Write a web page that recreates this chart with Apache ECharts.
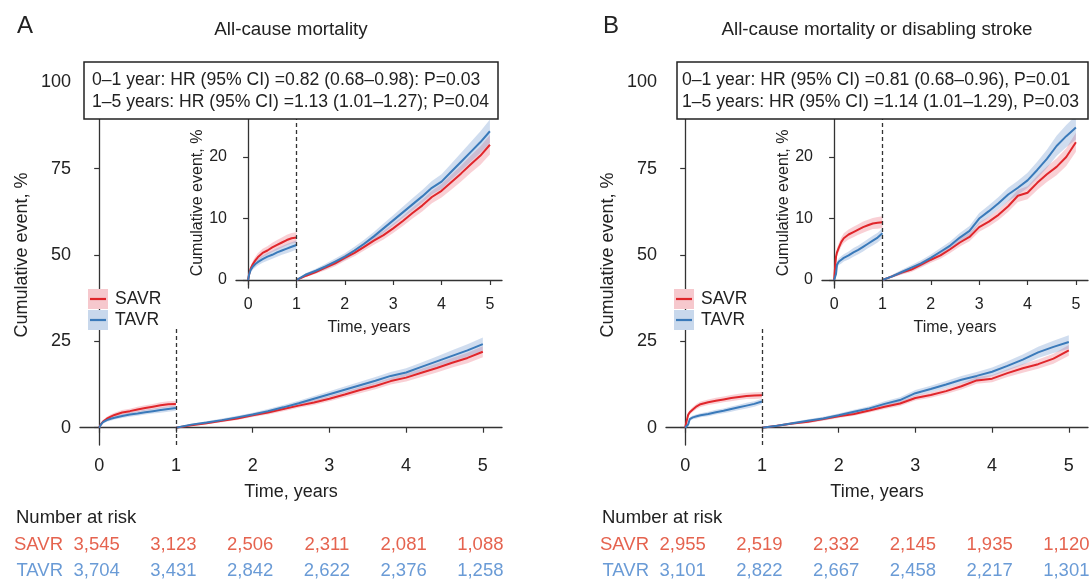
<!DOCTYPE html>
<html style="height: 100%">
<head>
<meta charset="utf-8">
</head>
<body style="height: 100%; margin: 0; background: #fff">
<div id="container" style="width: 1091px; height: 581px"></div>
<script type="text/javascript" src="https://cdn.jsdelivr.net/npm/echarts@6/dist/echarts.min.js"></script>
<script type="text/javascript">
// ---- data (cumulative event, %) ----
var yearTicks = [0, 1, 2, 3, 4, 5];
var mainPctTicks = [0, 25, 50, 75, 100];
var insetPctTicks = [0, 10, 20];

// panel A: all-cause mortality
var tEarlyA = [0, 0.02, 0.05, 0.1, 0.15, 0.2, 0.3, 0.4, 0.5, 0.6, 0.7, 0.8, 0.9, 1.0];
var savrEarlyA = [0, 0.9, 1.8, 2.6, 3.2, 3.7, 4.4, 4.8, 5.3, 5.7, 6.1, 6.5, 6.8, 6.9];
var tavrEarlyA = [0, 0.8, 1.6, 2.2, 2.6, 2.9, 3.4, 3.8, 4.1, 4.5, 4.8, 5.1, 5.4, 5.7];
var savrEarlyCiA = [0, 0.3, 0.45, 0.55, 0.6, 0.65, 0.7, 0.7, 0.75, 0.8, 0.8, 0.85, 0.85, 0.85];
var tavrEarlyCiA = [0, 0.3, 0.4, 0.5, 0.55, 0.55, 0.6, 0.65, 0.65, 0.7, 0.7, 0.75, 0.75, 0.75];

var tLate = [1, 1.2, 1.4, 1.6, 1.8, 2.0, 2.2, 2.4, 2.6, 2.8, 3.0, 3.2, 3.4, 3.6, 3.8, 4.0, 4.2, 4.4, 4.6, 4.8, 5.0];
var savrLateA = [0, 0.7, 1.3, 2.0, 2.7, 3.6, 4.4, 5.4, 6.4, 7.3, 8.4, 9.6, 10.9, 12.1, 13.5, 14.5, 15.9, 17.3, 18.8, 20.2, 22.0];
var tavrLateA = [0, 0.9, 1.5, 2.2, 3.0, 3.8, 4.8, 5.9, 7.1, 8.4, 9.7, 11.0, 12.3, 13.6, 15.0, 16.0, 17.6, 19.2, 20.8, 22.4, 24.2];
var savrLateCiA = [0, 0.2, 0.3, 0.4, 0.45, 0.5, 0.55, 0.6, 0.65, 0.7, 0.75, 0.8, 0.9, 0.95, 1.0, 1.1, 1.2, 1.3, 1.4, 1.5, 1.6];
var tavrLateCiA = [0, 0.25, 0.35, 0.45, 0.5, 0.55, 0.6, 0.65, 0.7, 0.8, 0.85, 0.9, 1.0, 1.05, 1.1, 1.2, 1.3, 1.45, 1.6, 1.75, 1.9];

// panel B: all-cause mortality or disabling stroke
var tEarlyB = [0, 0.02, 0.04, 0.06, 0.1, 0.15, 0.2, 0.3, 0.4, 0.5, 0.6, 0.7, 0.8, 0.9, 1.0];
var savrEarlyB = [0, 2.0, 3.8, 4.5, 5.3, 6.2, 6.8, 7.4, 7.8, 8.2, 8.6, 8.9, 9.2, 9.3, 9.4];
var tavrEarlyB = [0, 0.5, 1.0, 2.5, 3.0, 3.3, 3.6, 4.0, 4.5, 4.9, 5.4, 5.9, 6.4, 6.9, 7.6];
var savrEarlyCiB = [0, 0.4, 0.6, 0.65, 0.7, 0.75, 0.8, 0.8, 0.85, 0.85, 0.9, 0.9, 0.9, 0.95, 0.95];
var tavrEarlyCiB = [0, 0.3, 0.4, 0.5, 0.55, 0.6, 0.6, 0.65, 0.7, 0.7, 0.75, 0.75, 0.8, 0.8, 0.8];

var savrLateB = [0, 0.6, 1.2, 1.7, 2.5, 3.3, 4.0, 5.0, 6.1, 7.0, 8.6, 9.5, 10.6, 12.0, 13.7, 14.2, 15.8, 17.2, 18.4, 20.0, 22.4];
var tavrLateB = [0, 0.6, 1.3, 2.0, 2.7, 3.6, 4.6, 5.6, 6.9, 8.0, 10.0, 11.2, 12.5, 13.9, 15.0, 16.2, 17.9, 19.7, 21.8, 23.4, 24.8];
var savrLateCiB = [0, 0.2, 0.3, 0.4, 0.45, 0.5, 0.55, 0.6, 0.65, 0.7, 0.75, 0.8, 0.85, 0.9, 1.0, 1.05, 1.15, 1.25, 1.35, 1.45, 1.55];
var tavrLateCiB = [0, 0.25, 0.35, 0.45, 0.5, 0.55, 0.6, 0.65, 0.75, 0.8, 0.9, 0.95, 1.0, 1.1, 1.15, 1.25, 1.35, 1.5, 1.65, 1.8, 1.95];

// number at risk
var riskTimes = [0, 1, 2, 3, 4, 5];
var riskSavrA = [3545, 3123, 2506, 2311, 2081, 1088];
var riskTavrA = [3704, 3431, 2842, 2622, 2376, 1258];
var riskSavrB = [2955, 2519, 2332, 2145, 1935, 1120];
var riskTavrB = [3101, 2822, 2667, 2458, 2217, 1301];

var hrTextA = ['0\u20131 year: HR (95% CI) =0.82 (0.68\u20130.98): P=0.03',
               '1\u20135 years: HR (95% CI) =1.13 (1.01\u20131.27); P=0.04'];
var hrTextB = ['0\u20131 year: HR (95% CI) =0.81 (0.68\u20130.96), P=0.01',
               '1\u20135 years: HR (95% CI) =1.14 (1.01\u20131.29), P=0.03'];

var RED = '#e0262b', BLUE = '#3a7aba';
var RED_BAND = 'rgba(236,110,125,0.32)', BLUE_BAND = 'rgba(110,150,205,0.32)';
var INK = '#222';
var FONT = "'Liberation Sans', Arial, sans-serif";

var dom = document.getElementById('container');
var myChart = echarts.init(dom);

function band(ax, ts, vals, hw, color) {
  return {
    type: 'custom', xAxisIndex: ax, yAxisIndex: ax, silent: true, z: 1,
    data: [[ts[0], vals[0]]],
    renderItem: function (params, api) {
      var pts = [];
      for (var i = 0; i < ts.length; i++) pts.push(api.coord([ts[i], vals[i] + hw[i]]));
      for (var j = ts.length - 1; j >= 0; j--) pts.push(api.coord([ts[j], Math.max(0, vals[j] - hw[j])]));
      return { type: 'polygon', shape: { points: pts }, style: { fill: color } };
    }
  };
}

function curve(ax, ts, vals, color) {
  return {
    type: 'line', xAxisIndex: ax, yAxisIndex: ax, z: 3,
    showSymbol: false, silent: true,
    data: ts.map(function (t, i) { return [t, vals[i]]; }),
    lineStyle: { color: color, width: 2 }
  };
}

function dashed(ax, y0, y1) {
  return {
    type: 'line', xAxisIndex: ax, yAxisIndex: ax, data: [], silent: true,
    markLine: {
      silent: true, symbol: ['none', 'none'], label: { show: false },
      lineStyle: { type: [4, 3], color: '#333', width: 1.3 },
      data: [[{ coord: [1, y0] }, { coord: [1, y1] }]]
    }
  };
}

function panel(axMain, axInset, d) {
  var out = [];
  [axMain, axInset].forEach(function (ax) {
    out.push(band(ax, d.tE, d.sE, d.sEci, RED_BAND));
    out.push(band(ax, d.tE, d.tvE, d.tvEci, BLUE_BAND));
    out.push(band(ax, tLate, d.sL, d.sLci, RED_BAND));
    out.push(band(ax, tLate, d.tvL, d.tvLci, BLUE_BAND));
    out.push(curve(ax, d.tE, d.sE, RED));
    out.push(curve(ax, d.tE, d.tvE, BLUE));
    out.push(curve(ax, tLate, d.sL, RED));
    out.push(curve(ax, tLate, d.tvL, BLUE));
  });
  out.push(dashed(axMain, -5, 28.7));
  out.push(dashed(axInset, -1.3, 26.35));
  return out;
}

var axisLine = { show: true, lineStyle: { color: '#333', width: 1.3 } };
function xAx(grid, inset) {
  var fs = inset ? 16 : 18;
  return {
    type: 'value', gridIndex: grid, min: -0.25, max: 5.25,
    name: 'Time, years', nameLocation: 'middle', nameGap: inset ? 32 : 38,
    nameTextStyle: { fontSize: fs, color: INK, fontFamily: FONT },
    axisLine: axisLine, splitLine: { show: false },
    axisTick: { show: true, length: 5, customValues: yearTicks, lineStyle: { color: '#333', width: 1.2 } },
    axisLabel: { customValues: yearTicks, fontSize: fs, color: INK, margin: inset ? 9 : 12, fontFamily: FONT }
  };
}
function yAx(grid, inset) {
  var fs = inset ? 16 : 18;
  var ticks = inset ? insetPctTicks : mainPctTicks;
  return {
    type: 'value', gridIndex: grid,
    min: inset ? -1.3 : -5, max: inset ? 26.35 : 105,
    name: 'Cumulative event, %', nameLocation: 'middle', nameGap: inset ? 30 : 49,
    nameTextStyle: { fontSize: fs, color: INK, fontFamily: FONT },
    axisLine: axisLine, splitLine: { show: false },
    axisTick: { show: true, length: 5, customValues: ticks, lineStyle: { color: '#333', width: 1.2 } },
    axisLabel: { customValues: ticks, fontSize: fs, color: INK, margin: 9, fontFamily: FONT }
  };
}

var SHIFT = 586;
var grids = [
  { left: 80, top: 65, width: 422, height: 380 },
  { left: 236, top: 118, width: 266, height: 170 },
  { left: 80 + SHIFT, top: 65, width: 422, height: 380 },
  { left: 236 + SHIFT, top: 118, width: 266, height: 170 }
];

var series = [].concat(
  panel(0, 1, { tE: tEarlyA, sE: savrEarlyA, tvE: tavrEarlyA, sEci: savrEarlyCiA, tvEci: tavrEarlyCiA,
                sL: savrLateA, tvL: tavrLateA, sLci: savrLateCiA, tvLci: tavrLateCiA }),
  panel(2, 3, { tE: tEarlyB, sE: savrEarlyB, tvE: tavrEarlyB, sEci: savrEarlyCiB, tvEci: tavrEarlyCiB,
                sL: savrLateB, tvL: tavrLateB, sLci: savrLateCiB, tvLci: tavrLateCiB })
);

function hrBox(lines, left, padL) {
  return {
    text: lines.join('\n'), left: left, top: 62, padding: [7, 9, 6, padL],
    borderColor: '#222', borderWidth: 1.5, backgroundColor: '#fff',
    textStyle: { fontSize: 17.6, fontWeight: 'normal', lineHeight: 22, color: INK, fontFamily: FONT }
  };
}

option = {
  animation: false,
  textStyle: { fontFamily: FONT },
  title: [hrBox(hrTextA, 84, 8), hrBox(hrTextB, 677, 5)],
  grid: grids,
  xAxis: [xAx(0, false), xAx(1, true), xAx(2, false), xAx(3, true)],
  yAxis: [yAx(0, false), yAx(1, true), yAx(2, false), yAx(3, true)],
  series: series
};
myChart.setOption(option, true);

// text, legend and risk table placed once the axes exist
function txt(x, y, s, size, color, align) {
  return { type: 'text', x: x, y: y, z: 10,
    style: { text: s, fontSize: size, fill: color || INK, fontFamily: FONT,
             textAlign: align || 'left', textVerticalAlign: 'middle' } };
}
var fmt = function (n) { return n.toLocaleString('en-US'); };
var graphic = [];
[[0, 'A', 'All-cause mortality', riskSavrA, riskTavrA],
 [SHIFT, 'B', 'All-cause mortality or disabling stroke', riskSavrB, riskTavrB]].forEach(function (p, k) {
  var dx = p[0];
  graphic.push(txt(17 + dx, 26, p[1], 24));
  graphic.push(txt(291 + dx, 30, p[2], 18.8, INK, 'center'));
  // legend
  graphic.push({ type: 'rect', shape: { x: 88 + dx, y: 289, width: 20, height: 20 }, style: { fill: '#f6c8cd' }, z: 10 });
  graphic.push({ type: 'rect', shape: { x: 88 + dx, y: 310, width: 20, height: 20 }, style: { fill: '#c8d8ec' }, z: 10 });
  graphic.push({ type: 'line', shape: { x1: 90 + dx, y1: 299, x2: 106 + dx, y2: 299 }, style: { stroke: RED, lineWidth: 2.2 }, z: 11 });
  graphic.push({ type: 'line', shape: { x1: 90 + dx, y1: 320, x2: 106 + dx, y2: 320 }, style: { stroke: BLUE, lineWidth: 2.2 }, z: 11 });
  graphic.push(txt(115 + dx, 299, 'SAVR', 17.5));
  graphic.push(txt(115 + dx, 320, 'TAVR', 17.5));
  // number at risk
  graphic.push(txt(16 + dx, 518, 'Number at risk', 18.5));
  graphic.push(txt(63 + dx, 545, 'SAVR', 18.5, '#e5634f', 'right'));
  graphic.push(txt(63 + dx, 571, 'TAVR', 18.5, '#6a9bd6', 'right'));
  riskTimes.forEach(function (t, i) {
    var x = myChart.convertToPixel({ xAxisIndex: k * 2 }, t) - 2.5;
    graphic.push(txt(x, 545, fmt(p[3][i]), 18.5, '#e5634f', 'center'));
    graphic.push(txt(x, 571, fmt(p[4][i]), 18.5, '#6a9bd6', 'center'));
  });
});
myChart.setOption({ graphic: graphic });
</script>
</body>
</html>
